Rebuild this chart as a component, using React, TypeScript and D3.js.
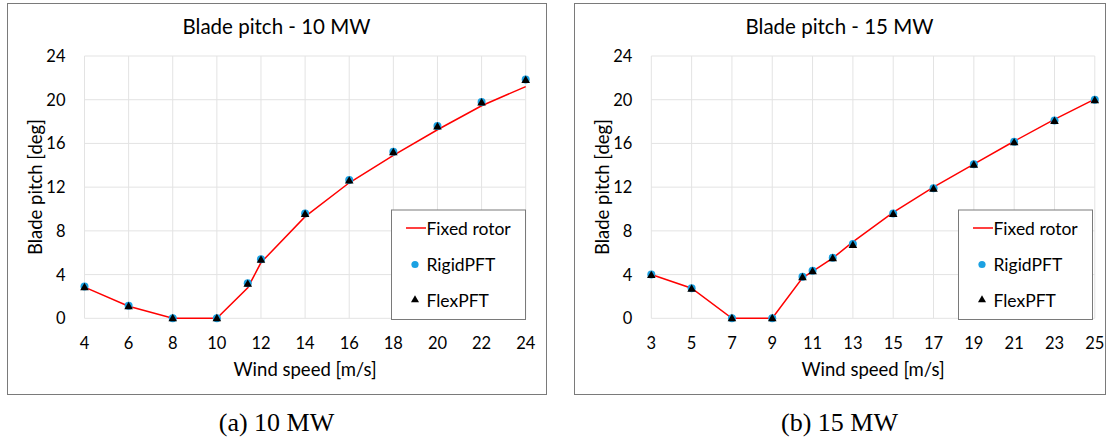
import React from "react";
import * as d3 from "d3";

// ---- Data ----
const ws10 = [4, 6, 8, 10, 11.4, 12, 14, 16, 18, 20, 22, 24];
const fixed10 = [2.85, 1.1, 0, 0, 2.8, 5.1, 9.3, 12.4, 14.9, 17.25, 19.45, 21.2];
const rigid10 = [2.9, 1.15, 0, 0, 3.2, 5.4, 9.6, 12.65, 15.25, 17.6, 19.8, 21.85];
const flex10 = [2.85, 1.1, 0, 0, 3.15, 5.35, 9.55, 12.6, 15.2, 17.55, 19.75, 21.8];
const xTicks10 = [4, 6, 8, 10, 12, 14, 16, 18, 20, 22, 24];

const ws15 = [3, 5, 7, 9, 10.5, 11, 12, 13, 15, 17, 19, 21, 23, 25];
const fixed15 = [4.0, 2.75, 0, 0, 3.7, 4.3, 5.5, 7.0, 9.7, 12.0, 14.1, 16.2, 18.2, 20.05];
const rigid15 = [4.0, 2.75, 0, 0, 3.8, 4.35, 5.55, 6.8, 9.6, 11.9, 14.1, 16.15, 18.1, 20.0];
const flex15 = [3.95, 2.7, 0, 0, 3.75, 4.3, 5.5, 6.7, 9.55, 11.85, 14.05, 16.1, 18.05, 19.95];
const xTicks15 = [3, 5, 7, 9, 11, 13, 15, 17, 19, 21, 23, 25];

const yTicks = [0, 4, 8, 12, 16, 20, 24];
const seriesNames = ["Fixed rotor", "RigidPFT", "FlexPFT"];

const FONT = "Lato, 'Open Sans', sans-serif";
const RED = "#FF0000";
const BLUE = "#1BA1E2";

type PanelProps = {
  box: [number, number, number, number]; // x0, y0, x1, y1
  plot: [number, number, number, number]; // left, top, right, bottom
  title: string;
  caption: string;
  ws: number[];
  fixed: number[];
  rigid: number[];
  flex: number[];
  xTicks: number[];
  xDomain: [number, number];
  legend: [number, number, number, number];
};

function Panel(p: PanelProps) {
  const [bx0, by0, bx1, by1] = p.box;
  const [pl, pt, pr, pb] = p.plot;
  const x = d3.scaleLinear().domain(p.xDomain).range([pl, pr]);
  const y = d3.scaleLinear().domain([0, 24]).range([pb, pt]);
  const line = d3
    .line<number>()
    .x((_, i) => x(p.ws[i]))
    .y((d) => y(d));
  const tri = d3.symbol(d3.symbolTriangle, 32)() as string;
  const triLeg = d3.symbol(d3.symbolTriangle, 28)() as string;
  const cx = (bx0 + bx1) / 2;
  const plotCx = (pl + pr) / 2;
  const [lx0, ly0, lx1, ly1] = p.legend;
  const rowY = [ly0 + 18.5, ly0 + 55, ly0 + 90.5];
  return (
    <g>
      <rect x={bx0 + 0.5} y={by0 + 0.5} width={bx1 - bx0} height={by1 - by0} fill="white" stroke="#7a7a7a" strokeWidth={1} />
      {/* grid */}
      {p.xTicks.map((t) => (
        <line key={"gx" + t} x1={x(t)} x2={x(t)} y1={pt} y2={pb} stroke="#e3e3e3" strokeWidth={1} />
      ))}
      {yTicks.map((t) => (
        <line key={"gy" + t} x1={pl} x2={pr} y1={y(t)} y2={y(t)} stroke="#e3e3e3" strokeWidth={1} />
      ))}
      {/* tick labels */}
      {p.xTicks.map((t) => (
        <text key={"tx" + t} x={x(t)} y={pb + 24.5} textAnchor="middle" dominantBaseline="central" fontFamily={FONT} fontSize={16.5} fill="#000">
          {t}
        </text>
      ))}
      {yTicks.map((t) => (
        <text key={"ty" + t} x={pl - 19} y={y(t)} textAnchor="end" dominantBaseline="central" fontFamily={FONT} fontSize={16.5} fill="#000">
          {t}
        </text>
      ))}
      {/* title & axis titles */}
      <text x={cx} y={by0 + 23} textAnchor="middle" dominantBaseline="central" fontFamily={FONT} fontSize={20.5} fill="#000">
        {p.title}
      </text>
      <text x={plotCx} y={pb + 51} textAnchor="middle" dominantBaseline="central" fontFamily={FONT} fontSize={18.5} fill="#000">
        Wind speed [m/s]
      </text>
      <text
        transform={`translate(${bx0 + 27.5},${(pt + pb) / 2}) rotate(-90)`}
        textAnchor="middle"
        dominantBaseline="central"
        fontFamily={FONT}
        fontSize={18.5}
        fill="#000"
      >
        Blade pitch [deg]
      </text>
      {/* series */}
      <path d={line(p.fixed) || ""} fill="none" stroke={RED} strokeWidth={1.5} />
      {p.rigid.map((v, i) => (
        <circle key={"c" + i} cx={x(p.ws[i])} cy={y(v)} r={4} fill={BLUE} />
      ))}
      {p.flex.map((v, i) => (
        <path key={"t" + i} d={tri} transform={`translate(${x(p.ws[i])},${y(v) + 0.5})`} fill="#000" />
      ))}
      {/* legend */}
      <rect x={lx0 + 0.5} y={ly0 + 0.5} width={lx1 - lx0} height={ly1 - ly0} fill="white" stroke="#7a7a7a" strokeWidth={1} />
      <line x1={lx0 + 15} x2={lx0 + 35} y1={rowY[0]} y2={rowY[0]} stroke={RED} strokeWidth={1.5} />
      <circle cx={lx0 + 24} cy={rowY[1]} r={3.6} fill={BLUE} />
      <path d={triLeg} transform={`translate(${lx0 + 24},${rowY[2]})`} fill="#000" />
      {seriesNames.map((n, i) => (
        <text key={n} x={lx0 + 35.5} y={rowY[i]} dominantBaseline="central" fontFamily={FONT} fontSize={17.5} fill="#000">
          {n}
        </text>
      ))}
      {/* caption */}
      <text x={cx} y={by1 + 37} textAnchor="middle" fontFamily="'Liberation Serif', 'DejaVu Serif', serif" fontSize={26} fill="#000">
        {p.caption}
      </text>
    </g>
  );
}

export default function App() {
  return (
    <svg width={1108} height={443} style={{ position: "absolute", left: 0, top: 0, background: "white" }}>
      <rect x={0} y={0} width={1108} height={443} fill="white" />
      <Panel
        box={[7, 3, 546, 394]}
        plot={[84.5, 56, 525.7, 318.3]}
        title="Blade pitch - 10 MW"
        caption="(a) 10 MW"
        ws={ws10}
        fixed={fixed10}
        rigid={rigid10}
        flex={flex10}
        xTicks={xTicks10}
        xDomain={[4, 24]}
        legend={[391, 209.5, 525, 319]}
      />
      <Panel
        box={[574, 3, 1105, 394]}
        plot={[651.3, 56, 1094.8, 318.3]}
        title="Blade pitch - 15 MW"
        caption="(b) 15 MW"
        ws={ws15}
        fixed={fixed15}
        rigid={rigid15}
        flex={flex15}
        xTicks={xTicks15}
        xDomain={[3, 25]}
        legend={[958, 209.5, 1092, 319]}
      />
    </svg>
  );
}
